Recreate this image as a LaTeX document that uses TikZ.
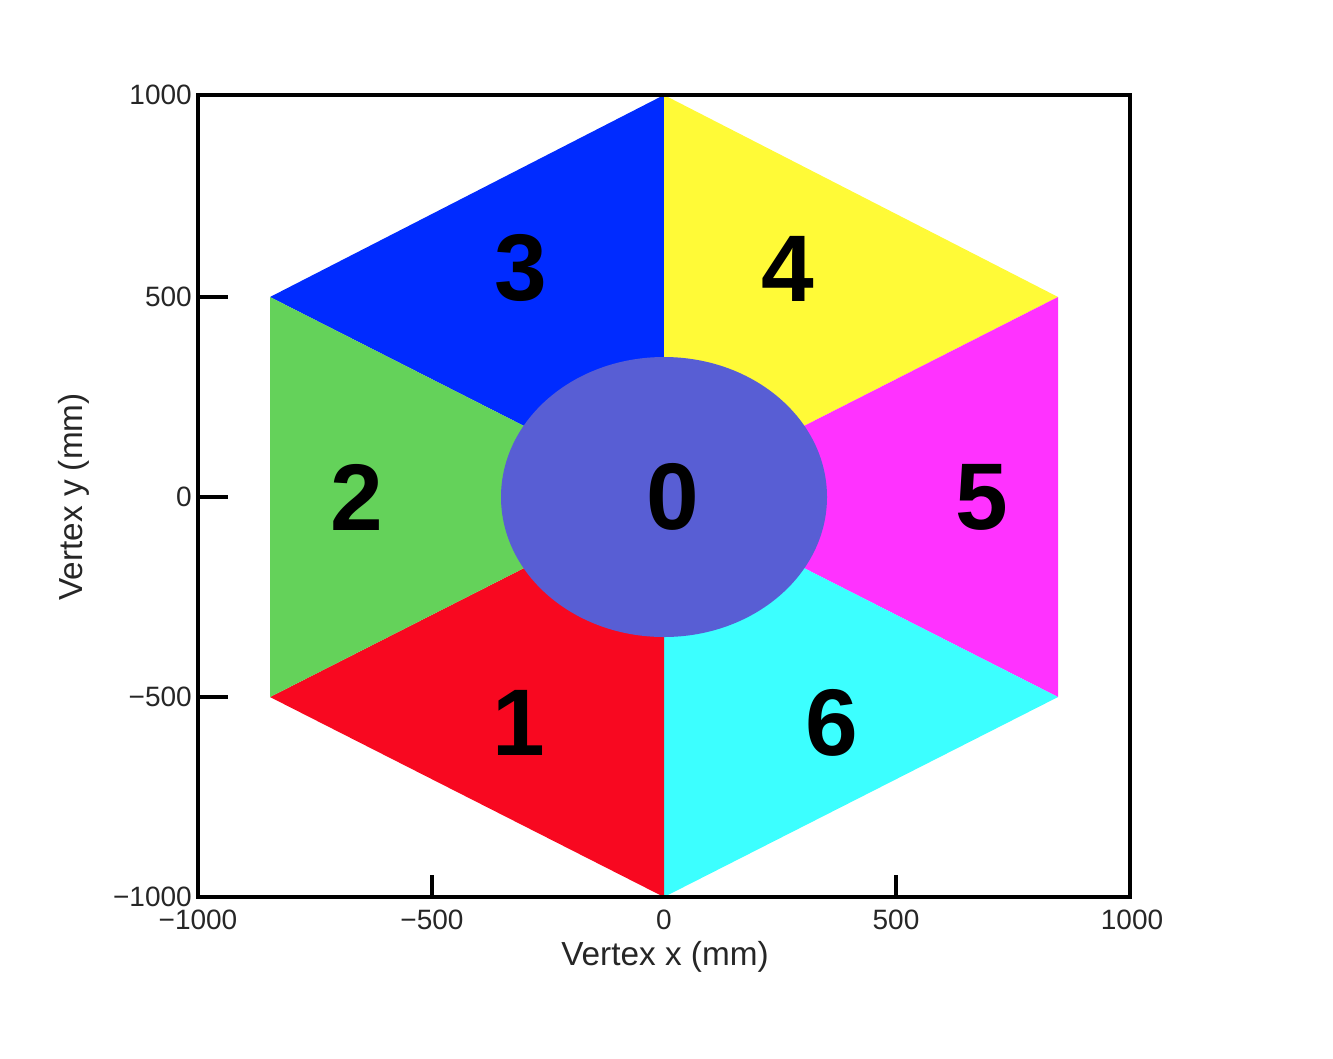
\documentclass[tikz,border=0pt]{standalone}
\usepackage{fontspec}
\setmainfont{Liberation Sans}
\definecolor{sblue}{RGB}{0,43,255}
\definecolor{syellow}{RGB}{255,250,55}
\definecolor{smagenta}{RGB}{255,50,255}
\definecolor{scyan}{RGB}{60,255,255}
\definecolor{sred}{RGB}{248,8,32}
\definecolor{sgreen}{RGB}{100,210,90}
\definecolor{scentre}{RGB}{88,94,212}
\begin{document}
\begin{tikzpicture}[x=0.75pt,y=-0.75pt,
  ticklab/.style={inner sep=0pt,font=\fontsize{21}{21}\selectfont,text=black!85},
  axtitle/.style={inner sep=0pt,font=\fontsize{25}{25}\selectfont,text=black!85},
  seclab/.style={inner sep=0pt,font=\fontsize{71}{71}\selectfont\bfseries},
  axline/.style={line width=3pt,black}]
\useasboundingbox (0,0) rectangle (1333,1058);
% hexagon vertices
\coordinate (C) at (664,497);
\coordinate (T) at (664,95);
\coordinate (UR) at (1058,297);
\coordinate (LR) at (1058,697);
\coordinate (B) at (664,897);
\coordinate (LL) at (270,697);
\coordinate (UL) at (270,297);
% sectors
\fill[sblue] (C) -- (UL) -- (T) -- cycle;
\fill[syellow] (C) -- (T) -- (UR) -- cycle;
\fill[smagenta] (C) -- (UR) -- (LR) -- cycle;
\fill[scyan] (C) -- (LR) -- (B) -- cycle;
\fill[sred] (C) -- (B) -- (LL) -- cycle;
\fill[sgreen] (C) -- (LL) -- (UL) -- cycle;
\fill[scentre] (C) ellipse [x radius=163, y radius=140];
% sector labels
\node[seclab] (s3) at (521,268) {3};
\node[seclab] (s4) at (788,269) {4};
\node[seclab] (s2) at (357,497) {2};
\node[seclab] (s0) at (673,497) {0};
\node[seclab] (s5) at (982,497) {5};
\node[seclab] (s1) at (519,723) {1};
\node[seclab] (s6) at (832,723) {6};
% frame and ticks
\draw[axline] (198,95) rectangle (1130,897);
\foreach \yy in {297,497,697} \draw[axline] (198,\yy) -- (228,\yy);
\foreach \xx in {432,896} \draw[axline] (\xx,897) -- (\xx,875);
% tick labels
\node[ticklab,anchor=east] (y1000) at (192,95) {1000};
\node[ticklab,anchor=east] (y500) at (192,297) {500};
\node[ticklab,anchor=east] (y0) at (192,497) {0};
\node[ticklab,anchor=east] (ym500) at (192,697) {−500};
\node[ticklab,anchor=east] (ym1000) at (192,897) {−1000};
\node[ticklab] (xm1000) at (198,920) {−1000};
\node[ticklab] (xm500) at (432,920) {−500};
\node[ticklab] (x0) at (664,920) {0};
\node[ticklab] (x500) at (896,920) {500};
\node[ticklab] (x1000) at (1132,920) {1000};
% axis titles
\node[axtitle] (xt) at (665,957) {Vertex x (mm)};
\node[axtitle,rotate=90] (yt) at (74,497) {Vertex y (mm)};
\end{tikzpicture}
\end{document}
